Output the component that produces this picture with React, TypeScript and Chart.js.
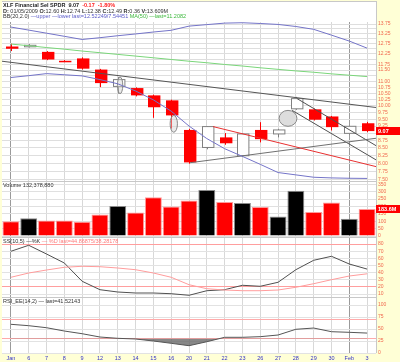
import React, { useEffect, useRef } from 'react';
import { Chart, registerables } from 'chart.js';
Chart.register(...registerables);

const FONT = "'Liberation Sans', Arial, sans-serif";
const YELLOW = '#ffffd6';
const AXIS_COLOR = '#f0684f';

// ---- data ----
const dateLabels = ['Jan', '6', '7', '8', '9', '12', '13', '14', '15', '16', '20', '21', '22', '23', '26', '27', '28', '29', '30', 'Feb', '3'];
const opens = [12.60, 12.62, 12.34, 11.92, 12.03, 11.52, 10.79, 10.72, 10.42, 10.22, 9.11, 8.51, 8.85, 8.24, 9.11, 8.97, 9.89, 9.87, 9.60, 8.99, 9.35];
const highs = [12.74, 12.72, 12.38, 11.95, 12.08, 11.55, 11.19, 10.75, 10.45, 10.25, 9.15, 9.25, 9.00, 8.99, 9.39, 9.15, 10.36, 9.90, 9.62, 9.25, 9.40];
const lows = [12.38, 12.55, 11.95, 11.86, 11.52, 10.76, 10.49, 10.38, 9.55, 9.16, 7.99, 8.45, 8.60, 8.20, 8.68, 8.85, 9.85, 9.45, 9.09, 8.95, 9.03];
const closes = [12.49, 12.66, 11.98, 11.90, 11.56, 10.93, 11.08, 10.42, 9.95, 9.64, 8.03, 9.23, 8.65, 8.97, 8.79, 9.11, 10.29, 9.48, 9.21, 9.24, 9.07];
const volumes = [100, 121, 105, 105, 96, 145, 204, 160, 262, 200, 241, 312, 231, 224, 197, 133, 307, 162, 227, 117, 183.6];
const bbUpper = [13.59, 13.43, 13.27, 13.11, 12.95, 13.04, 13.14, 13.23, 13.33, 13.42, 13.64, 13.72, 13.80, 13.82, 13.78, 13.73, 13.62, 13.47, 13.17, 12.87, 12.52];
const bbLower = [11.17, 11.25, 11.34, 11.29, 11.24, 11.08, 10.90, 10.60, 10.24, 9.80, 9.25, 8.81, 8.47, 8.22, 7.97, 7.72, 7.65, 7.58, 7.56, 7.55, 7.545];
const ma50 = [12.72, 12.64, 12.55, 12.47, 12.38, 12.30, 12.22, 12.14, 12.06, 11.98, 11.90, 11.83, 11.75, 11.68, 11.60, 11.53, 11.46, 11.40, 11.33, 11.27, 11.21];
const stochK = [69.8, 78.2, 66, 53.4, 27.8, 16, 12.8, 11.4, 11.4, 10.4, 8.2, 14.6, 16, 22.2, 20.8, 26.4, 44, 57.2, 62.8, 52, 44.87];
const stochD = [33.4, 39.4, 43.6, 47.4, 48.8, 48.2, 46.4, 44, 39.4, 33.4, 23, 17.4, 15.6, 14.6, 14.6, 15.6, 19.4, 24.4, 30, 35.2, 38.28];
const rsi = [59.8, 56.9, 52.7, 45.8, 40.2, 33.3, 30.6, 29.2, 25, 20.2, 15.2, 23.5, 32.7, 32.7, 34, 37.5, 49.4, 52, 44.4, 43.1, 41.52];

// trend lines drawn on the price chart (date index, price)
const trendStartIdx = [-0.5, 11.35, 10.06, 16.07, 15.79];
const trendStartPrice = [11.90, 9.23, 8.02, 10.29, 9.83];
const trendEndIdx = [20.5, 20.5, 20.5, 20.5, 20.5];
const trendEndPrice = [9.94, 7.90, 8.82, 8.57, 8.11];
const trendColors = ['#555555', '#e83030', '#707070', '#505050', '#505050'];

// ellipse annotations (date index range, price range)
const ellipseIdxFrom = [5.98, 8.94, 15.06];
const ellipseIdxTo = [6.28, 9.35, 16.06];
const ellipseTop = [11.19, 9.64, 9.83];
const ellipseBottom = [10.49, 9.03, 9.24];

// tick values
const priceGrid = [7.5, 7.75, 8, 8.25, 8.5, 8.75, 9, 9.25, 9.5, 9.75, 10, 10.25, 10.5, 10.75, 11, 11.25, 11.5, 11.75, 12, 12.25, 12.5, 12.75, 13, 13.25, 13.5, 13.75];
const priceLabelled = [7.5, 7.75, 8, 8.25, 8.5, 8.75, 9.25, 9.5, 9.75, 10, 10.25, 10.5, 10.75, 11, 11.5, 11.75, 12.25, 12.75, 13.25, 13.75];
const volumeTicks = [0, 50, 100, 150, 200, 250, 300, 350];
const stochTicks = [10, 20, 30, 40, 50, 60, 70, 80];
const stochLevels = [20, 80];
const rsiTicks = [0, 25, 50, 75, 100];
const rsiLevels = [30, 70];

const pts = (arr: number[]) => arr.map((v, i) => ({ x: i, y: v }));
const isDown = (i: number) => (i === 0 ? true : closes[i] < closes[i - 1]);

const xAxis = (showLabels: boolean): any => ({
  type: 'linear',
  min: -0.5,
  max: 20.5,
  offset: false,
  afterBuildTicks: (s: any) => { s.ticks = dateLabels.map((_, i) => ({ value: i })); },
  afterFit: (s: any) => { s.height = showLabels ? 9 : 0; },
  grid: {
    drawTicks: false,
    offset: false,
    color: (c: any) => (c.tick && (c.tick.value === 0 || c.tick.value === 19) ? '#9a9a9a' : '#d8d8d8'),
  },
  border: { display: false },
  ticks: {
    display: showLabels,
    autoSkip: false,
    maxRotation: 0,
    padding: 2,
    font: { size: 5.5, family: FONT },
    color: '#3434c4',
    callback: (v: number) => dateLabels[v] ?? '',
  },
});

const yAxisBase = (extra: any): any => ({
  position: 'right',
  afterFit: (s: any) => { s.width = 24; s.paddingTop = 0; s.paddingBottom = 0; },
  border: { display: false },
  ...extra,
});

const candlePlugin = {
  id: 'candles',
  beforeDatasetsDraw(chart: any) {
    const { ctx, chartArea, scales } = chart;
    const x = scales.x, y = scales.y;
    ctx.save();
    ctx.beginPath();
    ctx.rect(chartArea.left, chartArea.top, chartArea.width, chartArea.height);
    ctx.clip();
    const w = (x.getPixelForValue(1) - x.getPixelForValue(0)) * 0.64;
    opens.forEach((o, i) => {
      const c = closes[i];
      const col = isDown(i) ? '#ff0000' : '#808080';
      const cx = Math.round(x.getPixelForValue(i)) + 0.5;
      ctx.strokeStyle = col;
      ctx.lineWidth = 1;
      ctx.beginPath();
      ctx.moveTo(cx, y.getPixelForValue(highs[i]));
      ctx.lineTo(cx, y.getPixelForValue(lows[i]));
      ctx.stroke();
      const yTop = y.getPixelForValue(Math.max(o, c));
      const yBot = y.getPixelForValue(Math.min(o, c));
      const left = Math.round(cx - w / 2) + 0.5;
      const h = Math.max(1.5, yBot - yTop);
      if (c > o) {
        ctx.fillStyle = '#ffffff';
        ctx.fillRect(left, yTop, w, h);
        ctx.strokeRect(left, yTop, w, h);
      } else {
        ctx.fillStyle = col;
        ctx.fillRect(left - 0.5, yTop, w + 1, h);
      }
    });
    ellipseIdxFrom.forEach((x1, k) => {
      const px1 = x.getPixelForValue(x1), px2 = x.getPixelForValue(ellipseIdxTo[k]);
      const py1 = y.getPixelForValue(ellipseTop[k]), py2 = y.getPixelForValue(ellipseBottom[k]);
      ctx.beginPath();
      ctx.ellipse((px1 + px2) / 2, (py1 + py2) / 2, (px2 - px1) / 2, (py2 - py1) / 2, 0, 0, Math.PI * 2);
      ctx.fillStyle = k === 2 ? '#dddddd' : 'rgba(210,210,210,0.45)';
      ctx.fill();
      ctx.strokeStyle = '#888888';
      ctx.lineWidth = 1;
      ctx.stroke();
    });
    ctx.restore();
  },
};

const valueBox = (value: number, text: string) => ({
  id: 'valueBox',
  afterDraw(chart: any) {
    const { ctx, chartArea, scales } = chart;
    const yp = Math.round(scales.y.getPixelForValue(value));
    ctx.save();
    ctx.fillStyle = '#ff0000';
    ctx.fillRect(chartArea.right, yp - 4, 24, 8);
    ctx.fillStyle = '#ffffff';
    ctx.font = `bold 5.5px ${FONT}`;
    ctx.textBaseline = 'middle';
    ctx.textAlign = 'left';
    ctx.fillText(text, chartArea.right + 2, yp + 0.5);
    ctx.restore();
  },
});

const baseOptions = (padTop: number, padBottom: number): any => ({
  responsive: false,
  maintainAspectRatio: false,
  animation: false,
  devicePixelRatio: 1,
  layout: { padding: { left: 2, right: 0, top: padTop, bottom: padBottom } },
  plugins: { legend: { display: false }, tooltip: { enabled: false } },
  elements: { point: { radius: 0 }, line: { tension: 0, borderWidth: 1 } },
});

const tickFont = { size: 5, family: FONT };

export default function App() {
  const priceRef = useRef<HTMLCanvasElement>(null);
  const volRef = useRef<HTMLCanvasElement>(null);
  const stochRef = useRef<HTMLCanvasElement>(null);
  const rsiRef = useRef<HTMLCanvasElement>(null);

  useEffect(() => {
    const charts: Chart[] = [];

    const trendSets = trendStartIdx.map((x1, k) => ({
      data: [{ x: x1, y: trendStartPrice[k] }, { x: trendEndIdx[k], y: trendEndPrice[k] }],
      borderColor: trendColors[k],
      borderWidth: 1,
      pointRadius: 0,
    }));

    charts.push(new Chart(priceRef.current as HTMLCanvasElement, {
      type: 'line',
      data: {
        datasets: [
          { data: pts(bbUpper), borderColor: '#7474c8', borderWidth: 1, pointRadius: 0 },
          { data: pts(bbLower), borderColor: '#7474c8', borderWidth: 1, pointRadius: 0 },
          { data: pts(ma50), borderColor: '#7ad67a', borderWidth: 1, pointRadius: 0 },
          ...trendSets,
        ] as any,
      },
      options: {
        ...baseOptions(22, 1),
        scales: {
          x: xAxis(false),
          y: yAxisBase({
            type: 'logarithmic',
            min: 7.47,
            max: 13.86,
            afterBuildTicks: (s: any) => { s.ticks = priceGrid.map((v) => ({ value: v })); },
            grid: { drawTicks: false, color: '#dedede' },
            ticks: {
              autoSkip: false,
              padding: 2,
              font: tickFont,
              color: AXIS_COLOR,
              callback: (v: number) => (priceLabelled.some((p) => Math.abs(p - v) < 1e-6) ? Number(v).toFixed(2) : ''),
            },
          }),
        },
      },
      plugins: [candlePlugin, valueBox(closes[20], closes[20].toFixed(2))],
    }));

    charts.push(new Chart(volRef.current as HTMLCanvasElement, {
      type: 'bar',
      data: {
        datasets: [{
          data: pts(volumes) as any,
          backgroundColor: volumes.map((_, i) => (isDown(i) ? '#ff0000' : '#000000')),
          borderColor: volumes.map((_, i) => (isDown(i) ? '#ff9a9a' : '#8a8a8a')),
          borderWidth: 1,
          barPercentage: 0.95,
          categoryPercentage: 1,
        }],
      },
      options: {
        ...baseOptions(1, 1),
        scales: {
          x: xAxis(false),
          y: yAxisBase({
            type: 'linear',
            min: 0,
            max: 366,
            afterBuildTicks: (s: any) => { s.ticks = volumeTicks.map((v) => ({ value: v })); },
            grid: { drawTicks: false, color: '#e0e0e0' },
            ticks: { autoSkip: false, padding: 2, font: tickFont, color: AXIS_COLOR },
          }),
        },
      },
      plugins: [valueBox(volumes[20], `${volumes[20].toFixed(1)}M`)],
    }));

    charts.push(new Chart(stochRef.current as HTMLCanvasElement, {
      type: 'line',
      data: {
        datasets: [
          { data: pts(stochD), borderColor: '#ff9c9c', borderWidth: 1, pointRadius: 0 },
          { data: pts(stochK), borderColor: '#505050', borderWidth: 1, pointRadius: 0 },
        ] as any,
      },
      options: {
        ...baseOptions(1, 0),
        scales: {
          x: xAxis(false),
          y: yAxisBase({
            type: 'linear',
            min: 5.8,
            max: 88.4,
            afterBuildTicks: (s: any) => { s.ticks = stochTicks.map((v) => ({ value: v })); },
            grid: { drawTicks: false, color: (c: any) => (c.tick && stochLevels.includes(c.tick.value) ? '#ff9e9e' : '#e2e2e2') },
            ticks: { autoSkip: false, padding: 2, font: tickFont, color: AXIS_COLOR },
          }),
        },
      },
    }));

    charts.push(new Chart(rsiRef.current as HTMLCanvasElement, {
      type: 'line',
      data: {
        datasets: [
          {
            data: pts(rsi),
            borderColor: '#555555',
            borderWidth: 1,
            pointRadius: 0,
            fill: { target: { value: rsiLevels[0] }, above: 'rgba(0,0,0,0)', below: 'rgba(105,105,105,0.8)' },
          },
        ] as any,
      },
      options: {
        ...baseOptions(1, 0),
        scales: {
          x: xAxis(true),
          y: yAxisBase({
            type: 'linear',
            min: 0,
            max: 114.6,
            afterBuildTicks: (s: any) => { s.ticks = [...rsiTicks, ...rsiLevels].sort((a, b) => a - b).map((v) => ({ value: v })); },
            grid: { drawTicks: false, color: (c: any) => (c.tick && rsiLevels.includes(c.tick.value) ? '#ffaaaa' : '#e2e2e2') },
            ticks: {
              autoSkip: false,
              padding: 2,
              font: tickFont,
              color: AXIS_COLOR,
              callback: (v: number) => (rsiTicks.includes(v) ? String(v) : ''),
            },
          }),
        },
      },
    }));

    return () => charts.forEach((c) => c.destroy());
  }, []);

  const txt: React.CSSProperties = {
    position: 'absolute',
    left: 3,
    fontSize: 5.5,
    lineHeight: '6px',
    whiteSpace: 'nowrap',
    fontFamily: FONT,
    color: '#333',
  };
  const sep = (top: number): React.CSSProperties => ({ position: 'absolute', left: 2, top, width: 374, height: 1, background: '#c8c8c8' });

  return (
    <div style={{ position: 'fixed', left: 0, top: 0, width: 400, height: 362, background: YELLOW, overflow: 'hidden' }}>
      <div style={{ position: 'absolute', left: 2, top: 1, width: 375, height: 352, boxSizing: 'border-box', background: '#fff', borderTop: '1px solid #c8c8c8', borderRight: '1px solid #c8c8c8' }} />
      <div style={sep(181)} />
      <div style={sep(237)} />
      <div style={sep(297)} />
      <canvas ref={priceRef} width={400} height={182} style={{ position: 'absolute', left: 0, top: 0 }} />
      <canvas ref={volRef} width={400} height={56} style={{ position: 'absolute', left: 0, top: 181 }} />
      <canvas ref={stochRef} width={400} height={60} style={{ position: 'absolute', left: 0, top: 237 }} />
      <canvas ref={rsiRef} width={400} height={65} style={{ position: 'absolute', left: 0, top: 297 }} />

      <div style={{ ...txt, top: 1.5, fontWeight: 'bold', color: '#222' }}>
        XLF Financial Sel SPDR&nbsp; 9.07&nbsp; <span style={{ color: '#ff2020' }}>-0.17&nbsp; -1.80%</span>
      </div>
      <div style={{ ...txt, top: 7.5 }}>
        <b>D:</b> 01/05/2009 <b>O:</b>12.60 <b>H:</b>12.74 <b>L:</b>12.38 <b>C:</b>12.49 <b>R:</b>0.36 <b>V:</b>13.609M
      </div>
      <div style={{ ...txt, top: 13 }}>
        BB(20,2.0) <span style={{ color: '#5a5ac8' }}>—upper —lower last=12.52249/7.54451</span>{' '}
        <span style={{ color: '#3cb83c' }}>MA(50) —last=11.2082</span>
      </div>
      <div style={{ ...txt, top: 182 }}>Volume 132,378,880</div>
      <div style={{ ...txt, top: 238 }}>
        SS(10,5) —%K <span style={{ color: '#ff7a7a' }}>— %D last=44.86875/38.28178</span>
      </div>
      <div style={{ ...txt, top: 297.5 }}>RSI_EE(14,2) — last=41.52143</div>
    </div>
  );
}
